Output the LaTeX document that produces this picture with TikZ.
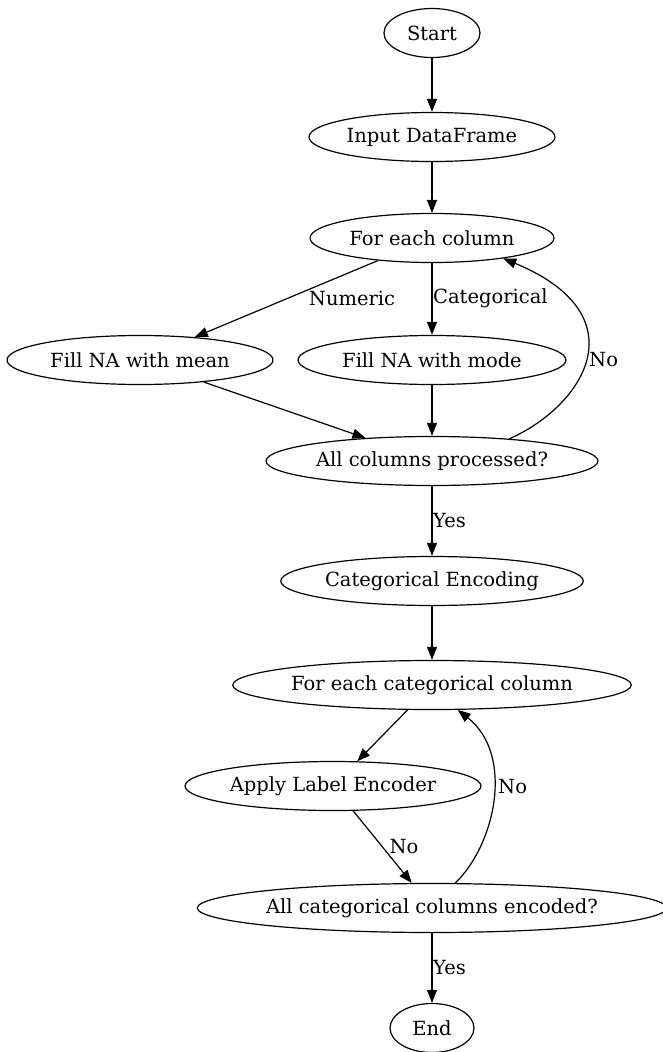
\documentclass[tikz,border=0pt]{standalone}
\usepackage{fontspec}
\setmainfont{DejaVu Serif}
\usetikzlibrary{shapes.geometric,arrows.meta}
\begin{document}
\begin{tikzpicture}[x=1pt,y=-1pt,
  every node/.style={font=\fontsize{19.5}{22}\selectfont},
  el/.style={ellipse,draw,line width=1.2pt,inner sep=0pt,minimum height=49pt},
  arr/.style={line width=1.2pt,-{Triangle[length=13pt,width=10pt]}},
  lbl/.style={inner sep=1pt}]
\useasboundingbox (0,0) rectangle (662,1052);
\node[el,minimum width=96pt]  (start)  at (432,33)  {Start};
\node[el,minimum width=246pt] (input)  at (432,137) {Input DataFrame};
\node[el,minimum width=244pt] (foreach) at (432,238) {For each column};
\node[el,minimum width=266pt] (fillmean) at (140,360) {Fill NA with mean};
\node[el,minimum width=268pt] (fillmode) at (432,360) {Fill NA with mode};
\node[el,minimum width=332pt] (proc) at (432,461) {All columns processed?};
\node[el,minimum width=296pt] (catenc) at (432,581) {Categorical Encoding};
\node[el,minimum width=396pt] (foreachcat) at (432,685) {For each categorical column};
\node[el,minimum width=296pt] (apply) at (333,786) {Apply Label Encoder};
\node[el,minimum width=460pt] (allcat) at (432,908) {All categorical columns encoded?};
\node[el,minimum width=84pt] (end) at (432,1028) {End};

\draw[arr] (start) -- (input);
\draw[arr] (input) -- (foreach);
\draw[arr] (foreach) -- (fillmean);
\draw[arr] (foreach) -- (fillmode);
\draw[arr] (fillmean) -- (proc);
\draw[arr] (fillmode) -- (proc);
\draw[arr] (proc.16) .. controls (585,405) and (640,315) .. (foreach.-16);
\draw[arr] (proc) -- (catenc);
\draw[arr] (catenc) -- (foreachcat);
\draw[arr] (foreachcat) -- (apply);
\draw[arr] (apply) -- (allcat);
\draw[arr] (allcat.47) .. controls (495,845) and (515,755) .. (foreachcat.-44);
\draw[arr] (allcat) -- (end);

\node[lbl] (lnum) at (352,298) {Numeric};
\node[lbl,anchor=west] (lcat) at (432,298) {Categorical};
\node[lbl,anchor=west] (lno1) at (588,360) {No};
\node[lbl,anchor=west] (lyes1) at (432,521) {Yes};
\node[lbl] (lno2) at (404,847) {No};
\node[lbl,anchor=west] (lno3) at (497,787) {No};
\node[lbl,anchor=west] (lyes2) at (432,968) {Yes};
\end{tikzpicture}
\end{document}
